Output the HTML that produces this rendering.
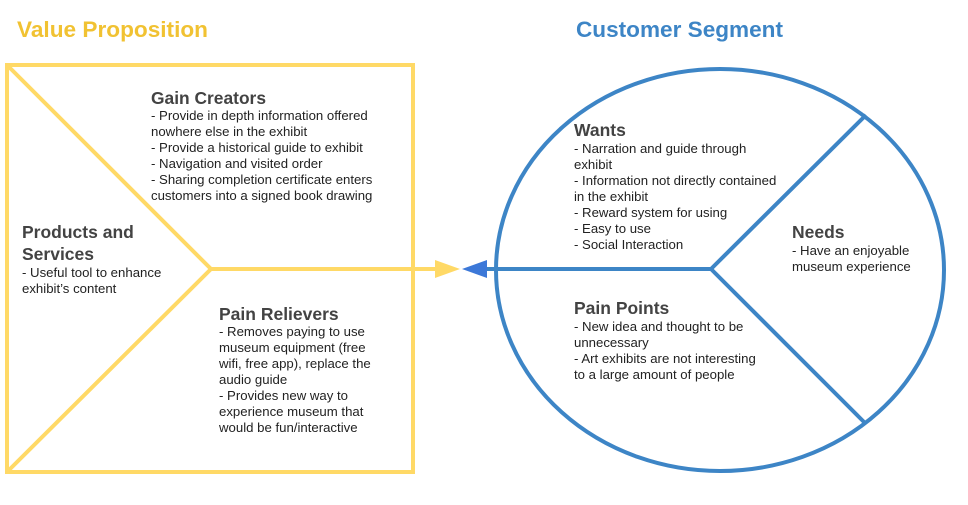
<!DOCTYPE html>
<html><head><meta charset="utf-8"><style>
html,body{margin:0;padding:0;background:#fff;}
svg{display:block;}
text{font-family:"Liberation Sans",Arial,sans-serif;}
.h{font-size:17.5px;font-weight:bold;fill:#434343;}
.b{font-size:13.2px;fill:#222;}
</style></head><body>
<svg width="968" height="505" viewBox="0 0 968 505" xmlns="http://www.w3.org/2000/svg">
<text x="17" y="37" font-size="22" font-weight="bold" fill="#f1c232" textLength="191" lengthAdjust="spacingAndGlyphs">Value Proposition</text>
<text x="576" y="37" font-size="22" font-weight="bold" fill="#3d85c6" textLength="207" lengthAdjust="spacingAndGlyphs">Customer Segment</text>
<g stroke="#ffd966" stroke-width="4" fill="none">
<rect x="7" y="65" width="406" height="407"/>
<polyline points="7,65 211,269 7,472"/>
<line x1="211" y1="269" x2="438" y2="269"/>
</g>
<polygon points="435,260 460,269 435,278" fill="#ffd966"/>
<g stroke="#3d85c6" stroke-width="4" fill="none">
<ellipse cx="720" cy="270" rx="224" ry="201"/>
<line x1="485" y1="269" x2="711" y2="269"/>
<line x1="711" y1="269" x2="866" y2="115"/>
<line x1="711" y1="269" x2="866" y2="424"/>
</g>
<polygon points="487,260 462,269 487,278" fill="#3c78d8"/>

<text class="h" x="151" y="104" textLength="115" lengthAdjust="spacingAndGlyphs">Gain Creators</text>
<g class="b">
<text x="151" y="120">- Provide in depth information offered</text>
<text x="151" y="136">nowhere else in the exhibit</text>
<text x="151" y="152">- Provide a historical guide to exhibit</text>
<text x="151" y="168">- Navigation and visited order</text>
<text x="151" y="184">- Sharing completion certificate enters</text>
<text x="151" y="200">customers into a signed book drawing</text>
</g>
<text class="h" x="22" y="238">Products and</text>
<text class="h" x="22" y="260">Services</text>
<g class="b">
<text x="22" y="277">- Useful tool to enhance</text>
<text x="22" y="293">exhibit’s content</text>
</g>
<text class="h" x="219" y="320">Pain Relievers</text>
<g class="b">
<text x="219" y="336">- Removes paying to use</text>
<text x="219" y="352">museum equipment (free</text>
<text x="219" y="368">wifi, free app), replace the</text>
<text x="219" y="384">audio guide</text>
<text x="219" y="400">- Provides new way to</text>
<text x="219" y="416">experience museum that</text>
<text x="219" y="432">would be fun/interactive</text>
</g>
<text class="h" x="574" y="136">Wants</text>
<g class="b">
<text x="574" y="153">- Narration and guide through</text>
<text x="574" y="169">exhibit</text>
<text x="574" y="185">- Information not directly contained</text>
<text x="574" y="201">in the exhibit</text>
<text x="574" y="217">- Reward system for using</text>
<text x="574" y="233">- Easy to use</text>
<text x="574" y="249">- Social Interaction</text>
</g>
<text class="h" x="792" y="238">Needs</text>
<g class="b">
<text x="792" y="255">- Have an enjoyable</text>
<text x="792" y="271">museum experience</text>
</g>
<text class="h" x="574" y="314">Pain Points</text>
<g class="b">
<text x="574" y="331">- New idea and thought to be</text>
<text x="574" y="347">unnecessary</text>
<text x="574" y="363">- Art exhibits are not interesting</text>
<text x="574" y="379">to a large amount of people</text>
</g>
</svg>
</body></html>
